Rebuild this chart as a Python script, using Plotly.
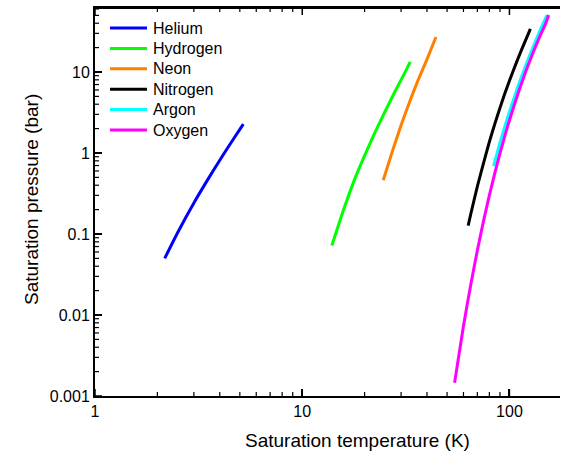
import math
import plotly.graph_objects as go

# Saturation curves (temperature K, pressure bar)
helium_T = [2.17, 2.5, 3.0, 3.5, 4.0, 4.5, 5.0, 5.2]
helium_P = [0.050, 0.103, 0.242, 0.469, 0.815, 1.30, 1.96, 2.27]

hydrogen_T = [13.9, 16, 18, 20, 22, 24, 26, 28, 30, 32, 33.2]
hydrogen_P = [0.072, 0.215, 0.49, 0.93, 1.60, 2.57, 3.9, 5.7, 8.0, 11.0, 13.3]

neon_T = [24.6, 27.1, 30, 33, 36, 40, 44.2]
neon_P = [0.46, 1.01, 2.2, 4.3, 7.6, 14.3, 27.0]

nitrogen_T = [63.2, 65, 70, 77.4, 80, 85, 90, 95, 100, 105, 110, 115, 120, 126.2]
nitrogen_P = [0.127, 0.174, 0.386, 1.01, 1.37, 2.29, 3.60, 5.41, 7.78, 10.8, 14.7, 19.4, 25.1, 34.0]

argon_T = [83.8, 87.3, 90, 95, 100, 105, 110, 115, 120, 125, 130, 135, 140, 145, 152]
argon_P = [0.69, 1.01, 1.34, 2.13, 3.24, 4.67, 6.67, 9.1, 12.1, 15.8, 20.3, 25.6, 31.9, 39.2, 50.5]

oxygen_T = [54.36, 60, 65, 70, 75, 80, 85, 90.2, 95, 100, 110, 120, 130, 140, 150, 154.6]
oxygen_P = [0.00146, 0.0073, 0.0233, 0.0626, 0.145, 0.30, 0.564, 1.01, 1.63, 2.54, 5.43, 10.2, 17.3, 27.3, 40.4, 50.4]

series = [
    ("Helium", helium_T, helium_P, "#0000FF"),
    ("Hydrogen", hydrogen_T, hydrogen_P, "#00FF00"),
    ("Neon", neon_T, neon_P, "#FF8000"),
    ("Nitrogen", nitrogen_T, nitrogen_P, "#000000"),
    ("Argon", argon_T, argon_P, "#00FFFF"),
    ("Oxygen", oxygen_T, oxygen_P, "#FF00FF"),
]

x_ticks = [1, 10, 100]
x_tick_labels = ["1", "10", "100"]
y_ticks = [0.001, 0.01, 0.1, 1, 10]
y_tick_labels = ["0.001", "0.01", "0.1", "1", "10"]
x_minor = [m * d for d in (1, 10, 100) for m in range(2, 10)]
y_minor = [m * d for d in (0.001, 0.01, 0.1, 1, 10) for m in range(2, 10)]

X_RANGE = [0, 2.244]
Y_RANGE = [-3, 1.79]

FONT = "Liberation Sans"

W, H = 561, 454
ML, MR, MT, MB = 95, 1, 8, 58
PW, PH = W - ML - MR, H - MT - MB


def px_to_paper_x(px):
    return (px - ML) / PW


def px_to_paper_y(py):
    return (H - MB - py) / PH


def val_to_paper(v, rng):
    return (math.log10(v) - rng[0]) / (rng[1] - rng[0])


fig = go.Figure()
for name, T, P, color in series:
    fig.add_trace(go.Scatter(x=T, y=P, mode="lines", name=name, showlegend=False,
                             line=dict(color=color, width=3, shape="spline", smoothing=0.6)))

axis_common = dict(
    type="log", showgrid=False, zeroline=False,
    showline=True, linecolor="black", linewidth=2,
    ticks="inside", ticklen=7, tickwidth=1.5, tickcolor="black",
    tickfont=dict(family=FONT, size=16, color="black"),
)

fig.update_xaxes(**axis_common, range=X_RANGE, tickmode="array", tickvals=x_ticks,
                 ticktext=x_tick_labels, mirror=True)
fig.update_yaxes(**axis_common, range=Y_RANGE, tickmode="array", tickvals=y_ticks,
                 ticktext=y_tick_labels, mirror=False)

shapes = []
annotations = []

# top frame line
shapes.append(dict(type="line", xref="paper", yref="paper", x0=0, x1=1, y0=1, y1=1,
                   layer="above", opacity=1, line=dict(color="black", width=2)))


def add_x_tick(v, length, width):
    xp = val_to_paper(v, X_RANGE)
    if not (0 <= xp <= 1):
        return
    for y0, y1 in ((0, length / PH), (1, 1 - length / PH)):
        shapes.append(dict(type="line", xref="paper", yref="paper", x0=xp, x1=xp,
                           y0=y0, y1=y1, layer="above", opacity=1,
                           line=dict(color="black", width=width)))


def add_y_tick(v, length, width):
    yp = val_to_paper(v, Y_RANGE)
    if not (0 <= yp <= 1):
        return
    shapes.append(dict(type="line", xref="paper", yref="paper", x0=0, x1=length / PW,
                       y0=yp, y1=yp, layer="above", opacity=1,
                       line=dict(color="black", width=width)))


for v in x_ticks:
    add_x_tick(v, 7, 1.5)
for v in x_minor:
    add_x_tick(v, 4, 1.2)
for v in y_ticks:
    add_y_tick(v, 7, 1.5)
for v in y_minor:
    add_y_tick(v, 4, 1.2)

# Legend drawn as line samples + text
row0, row_step = 28, 20.4
for i, (name, T, P, color) in enumerate(series):
    yy = px_to_paper_y(row0 + i * row_step)
    shapes.append(dict(type="line", xref="paper", yref="paper", opacity=1, layer="above",
                       x0=px_to_paper_x(110), x1=px_to_paper_x(147), y0=yy, y1=yy,
                       line=dict(color=color, width=3)))
    annotations.append(dict(text=name, xref="paper", yref="paper",
                            x=px_to_paper_x(151), y=yy, xanchor="left", yanchor="middle",
                            showarrow=False, font=dict(family=FONT, size=16, color="black")))

annotations += [
    dict(text="Saturation temperature (K)", xref="paper", yref="paper",
         x=px_to_paper_x(357), y=px_to_paper_y(440), xanchor="center", yanchor="middle",
         showarrow=False, font=dict(family=FONT, size=19, color="black")),
    dict(text="Saturation pressure (bar)", xref="paper", yref="paper",
         x=px_to_paper_x(31), y=px_to_paper_y(200), xanchor="center", yanchor="middle",
         showarrow=False, textangle=-90, font=dict(family=FONT, size=19, color="black")),
]

fig.update_layout(
    width=W, height=H,
    margin=dict(l=ML, r=MR, t=MT, b=MB),
    paper_bgcolor="white", plot_bgcolor="white",
    font=dict(family=FONT, color="black"),
    showlegend=False,
    shapes=shapes,
    annotations=annotations,
)

fig.write_html("out.html")
